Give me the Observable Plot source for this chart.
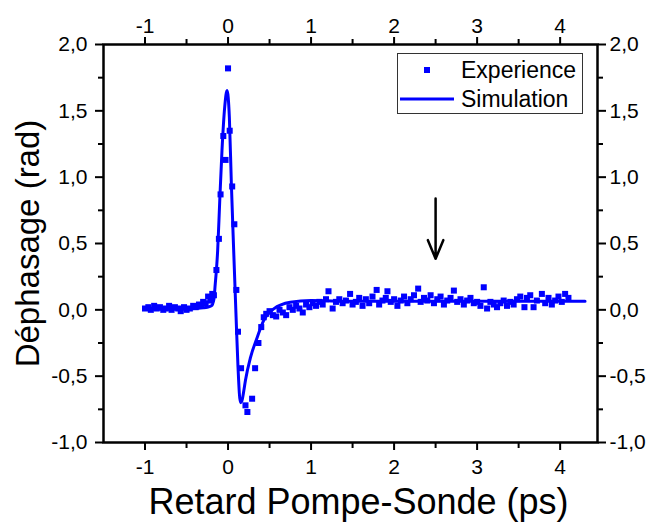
<!DOCTYPE html>
<html>
<head>
<meta charset="utf-8">
<script src="https://cdn.jsdelivr.net/npm/d3@7"></script>
<script src="https://cdn.jsdelivr.net/npm/@observablehq/plot@0.6"></script>
<style>
  html, body { margin: 0; padding: 0; background: white; overflow: hidden; }
  #wrap { position: relative; width: 652px; height: 526px; font-family: "Liberation Sans", Arial, sans-serif; }
  #legend { position: absolute; left: 397px; top: 53px; width: 186px; height: 61px; border: 1.5px solid #333; background: white; box-sizing: border-box; }
</style>
</head>
<body>
<div id="wrap"></div>
<script>
// Experimental points (ps, rad)
const expX = [
  -1.00,-0.96,-0.93,-0.89,-0.86,-0.82,-0.78,-0.75,-0.71,-0.68,-0.64,-0.60,-0.57,-0.53,-0.50,-0.46,-0.42,-0.39,-0.35,-0.32,
  -0.30,-0.27,-0.24,-0.21,-0.19,-0.17,-0.14,-0.11,-0.09,-0.057,-0.03,0.00,0.02,0.05,0.076,0.10,0.12,0.157,0.21,0.233,0.29,0.326,0.366,0.40,0.43,
  0.46,0.50,0.54,0.58,0.62,0.66,0.70,0.74,0.78,0.82,0.86,0.90,0.94,0.98,1.02,1.06,1.10,1.14,1.18,1.21,1.26,1.30,1.34,1.38,1.42,1.47,
  1.50,1.54,1.58,1.62,1.66,1.70,1.74,1.79,1.82,1.86,1.90,1.92,1.96,2.00,2.04,2.08,2.12,2.16,2.20,2.24,2.29,2.32,2.36,2.40,2.44,2.48,
  2.52,2.56,2.60,2.64,2.68,2.72,2.76,2.80,2.84,2.88,2.92,2.96,3.00,3.04,3.08,3.12,3.16,3.20,3.24,3.28,3.32,3.36,3.40,3.44,3.48,3.52,
  3.57,3.60,3.64,3.68,3.72,3.78,3.82,3.86,3.90,3.94,3.98,4.02,4.06,4.10
];
const expY = [
  0.01,0.02,0.00,0.03,0.01,0.02,0.00,0.01,0.03,0.00,0.02,0.01,-0.01,0.02,0.00,0.01,0.03,0.02,0.04,0.03,
  0.06,0.05,0.10,0.07,0.12,0.11,0.30,0.535,0.87,1.31,1.13,1.82,1.35,0.93,0.645,0.15,-0.165,-0.44,-0.72,-0.77,-0.67,-0.44,-0.25,-0.13,-0.056,
  -0.03,-0.01,-0.04,-0.05,0.00,-0.02,-0.04,0.02,0.00,0.03,0.01,-0.02,0.04,0.02,0.05,0.03,0.06,0.04,0.08,0.14,0.01,0.06,0.08,0.05,0.07,0.12,
  0.04,0.06,0.09,0.03,0.08,0.05,0.10,0.15,0.04,0.07,0.09,0.14,0.06,0.08,0.03,0.07,0.10,0.05,0.08,0.11,0.16,0.06,0.09,0.07,0.11,0.05,
  0.08,0.10,0.04,0.07,0.09,0.145,0.06,0.08,0.04,0.07,0.09,0.05,0.06,0.03,0.17,0.01,0.06,0.04,0.02,0.05,0.07,0.03,0.06,0.04,0.08,0.10,
  0.02,0.09,0.11,0.02,0.07,0.12,0.05,0.09,0.04,0.07,0.10,0.06,0.12,0.09
];

// Simulation curve (ps, rad)
const simX = [-1.00,-0.60,-0.40,-0.30,-0.25,-0.20,-0.17,-0.154,-0.14,-0.125,-0.10,-0.073,-0.04,-0.012,0.016,0.04,0.068,0.097,0.12,0.149,0.165,0.19,0.21,0.27,0.35,0.43,0.55,0.75,1.00,1.50,2.00,3.00,4.30];
const simY = [0.005,0.005,0.01,0.015,0.02,0.03,0.08,0.195,0.30,0.446,0.82,1.20,1.53,1.653,1.45,0.95,0.446,-0.056,-0.43,-0.70,-0.69,-0.61,-0.53,-0.36,-0.21,-0.08,0.007,0.057,0.07,0.065,0.065,0.065,0.065];

// Axis ticks
const xTicks = [-1, 0, 1, 2, 3, 4];
const xMinorTicks = [-0.5, 0.5, 1.5, 2.5, 3.5];
const yTicks = [-1, -0.5, 0, 0.5, 1, 1.5, 2];
const yMinorTicks = [-0.75, -0.25, 0.25, 0.75, 1.25, 1.75];

// Arrow annotation
const arrowX = [2.5];
const arrowY1 = [0.84];
const arrowY2 = [0.385];

// Texts
const xTitle = "Retard Pompe-Sonde (ps)";
const yTitle = "Déphasage (rad)";
const legendLabels = ["Experience", "Simulation"];

const expData = expX.map((x, i) => ({x, y: expY[i]}));
const simData = simX.map((x, i) => ({x, y: simY[i]}));
const arrowData = arrowX.map((x, i) => ({x, y1: arrowY1[i], y2: arrowY2[i]}));

const blue = "#0000ff";
const yFmt = d => d.toFixed(1).replace(".", ",");
const xFmt = d => String(d);

const plot = Plot.plot({
  width: 652,
  height: 526,
  marginTop: 44,
  marginRight: 55,
  marginBottom: 84,
  marginLeft: 103,
  style: {fontFamily: "'Liberation Sans', Arial, sans-serif", fontSize: "21px", background: "white", color: "black", overflow: "visible"},
  x: {domain: [-1.5, 4.45]},
  y: {domain: [-1, 2]},
  marks: [
    Plot.dot(expData, {x: "x", y: "y", symbol: "square", r: 3.4, fill: blue, stroke: "none"}),
    Plot.line(simData, {x: "x", y: "y", stroke: blue, strokeWidth: 3, curve: "monotone-x"}),
    Plot.arrow(arrowData, {x1: "x", x2: "x", y1: "y1", y2: "y2", stroke: "black", strokeWidth: 2.5, headLength: 14, headAngle: 45}),
    Plot.axisX({anchor: "bottom", ticks: xTicks, tickSize: 8, tickPadding: 9, tickFormat: xFmt, strokeWidth: 2, fontSize: 21, label: null}),
    Plot.axisX({anchor: "bottom", ticks: xMinorTicks, tickSize: 6, tickFormat: () => "", strokeWidth: 2, label: null}),
    Plot.axisX({anchor: "top", ticks: xTicks, tickSize: 8, tickPadding: 4, tickFormat: xFmt, strokeWidth: 2, fontSize: 21, label: null}),
    Plot.axisX({anchor: "top", ticks: xMinorTicks, tickSize: 6, tickFormat: () => "", strokeWidth: 2, label: null}),
    Plot.axisY({anchor: "left", ticks: yTicks, tickSize: 8, tickPadding: 8, tickFormat: yFmt, strokeWidth: 2, fontSize: 21, label: null}),
    Plot.axisY({anchor: "left", ticks: yMinorTicks, tickSize: 5, tickFormat: () => "", strokeWidth: 2, label: null}),
    Plot.axisY({anchor: "right", ticks: yTicks, tickSize: 8, tickPadding: 4, tickFormat: yFmt, strokeWidth: 2, fontSize: 21, label: null}),
    Plot.axisY({anchor: "right", ticks: yMinorTicks, tickSize: 5, tickFormat: () => "", strokeWidth: 2, label: null}),
    Plot.frame({stroke: "black", strokeWidth: 2.5}),
    Plot.text([xTitle], {frameAnchor: "bottom", text: d => d, dy: 46, dx: 8, lineAnchor: "top", textAnchor: "middle", fontSize: 36, fill: "black"}),
    Plot.text([yTitle], {frameAnchor: "left", text: d => d, dx: -88, rotate: -90, lineAnchor: "top", textAnchor: "middle", fontSize: 33, fill: "black"})
  ]
});

const wrap = document.getElementById("wrap");
wrap.appendChild(plot);

// Legend box
const legend = document.createElement("div");
legend.id = "legend";
legend.innerHTML = `
<svg width="186" height="61" style="position:absolute;left:-1.5px;top:-1.5px;overflow:visible">
  <rect x="27" y="14" width="6" height="6" fill="${blue}"></rect>
  <line x1="3" x2="57" y1="46" y2="46" stroke="${blue}" stroke-width="3"></line>
  <text x="64" y="25" font-size="23" font-family="'Liberation Sans', Arial, sans-serif" fill="black">${legendLabels[0]}</text>
  <text x="64" y="54" font-size="23" font-family="'Liberation Sans', Arial, sans-serif" fill="black">${legendLabels[1]}</text>
</svg>`;
wrap.appendChild(legend);
</script>
</body>
</html>
